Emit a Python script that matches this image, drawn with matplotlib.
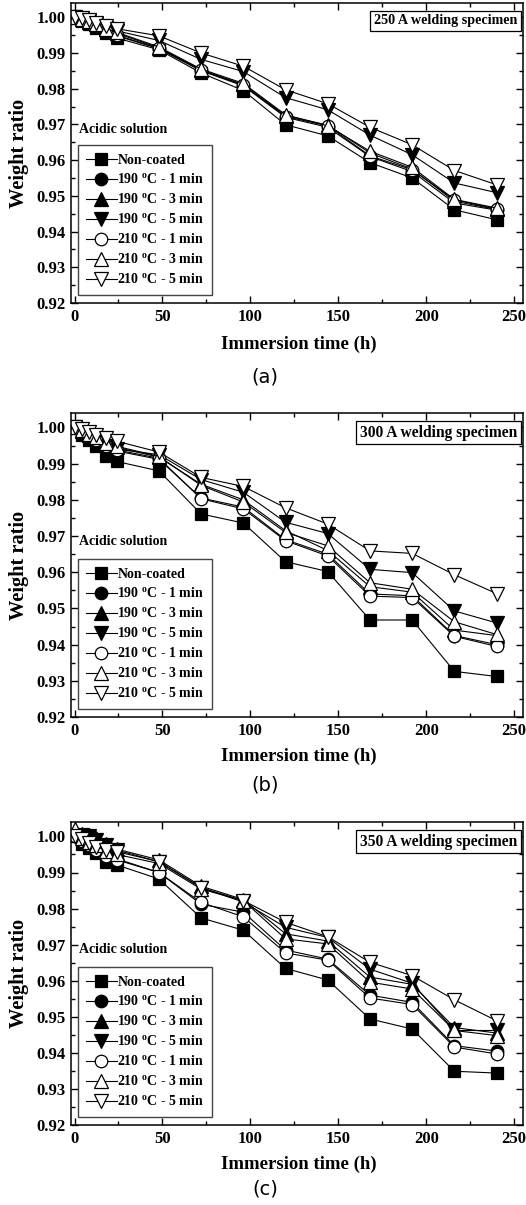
import matplotlib
matplotlib.use("Agg")
import matplotlib.pyplot as plt
from matplotlib.ticker import MultipleLocator

plt.rcParams['font.family'] = ['Liberation Serif', 'DejaVu Serif']
plt.rcParams['font.weight'] = 'bold'
plt.rcParams['mathtext.fontset'] = 'custom'
plt.rcParams['mathtext.rm'] = 'Liberation Serif'
plt.rcParams['mathtext.bf'] = 'Liberation Serif:bold'

# immersion times (h)
t = [0, 4, 8, 12, 18, 24, 48, 72, 96, 120, 144, 168, 192, 216, 240]

labels = ['Non-coated',
          r'190 $^{\mathbf{o}}$C - 1 min', r'190 $^{\mathbf{o}}$C - 3 min', r'190 $^{\mathbf{o}}$C - 5 min',
          r'210 $^{\mathbf{o}}$C - 1 min', r'210 $^{\mathbf{o}}$C - 3 min', r'210 $^{\mathbf{o}}$C - 5 min']
markers = ['s', 'o', '^', 'v', 'o', '^', 'v']
fills = ['black', 'black', 'black', 'black', 'white', 'white', 'white']
msizes = [8, 9, 10, 10, 9, 10, 10]

# 250 A
nc_a = [1.000, 0.9990, 0.9980, 0.9970, 0.9955, 0.9942, 0.9909, 0.9844, 0.9795, 0.9699, 0.9668, 0.9593, 0.9550, 0.9461, 0.9433]
c190_1_a = [1.000, 0.9992, 0.9983, 0.9974, 0.9960, 0.9948, 0.9912, 0.9850, 0.9808, 0.9720, 0.9692, 0.9610, 0.9568, 0.9480, 0.9460]
c190_3_a = [1.000, 0.9995, 0.9988, 0.9980, 0.9966, 0.9955, 0.9915, 0.9852, 0.9812, 0.9725, 0.9698, 0.9620, 0.9575, 0.9485, 0.9462]
c190_5_a = [1.000, 0.9996, 0.9990, 0.9982, 0.9970, 0.9962, 0.9935, 0.9882, 0.9848, 0.9775, 0.9741, 0.9670, 0.9615, 0.9536, 0.9509]
c210_1_a = [1.000, 0.9993, 0.9985, 0.9976, 0.9963, 0.9950, 0.9913, 0.9852, 0.9810, 0.9722, 0.9696, 0.9612, 0.9573, 0.9489, 0.9463]
c210_3_a = [1.000, 0.9996, 0.9990, 0.9982, 0.9968, 0.9958, 0.9917, 0.9855, 0.9815, 0.9727, 0.9696, 0.9625, 0.9580, 0.9490, 0.9466]
c210_5_a = [1.000, 0.9997, 0.9992, 0.9985, 0.9975, 0.9968, 0.9948, 0.9900, 0.9863, 0.9797, 0.9758, 0.9692, 0.9643, 0.9571, 0.9531]

# 300 A
nc_b = [1.000, 0.9980, 0.9965, 0.9950, 0.9922, 0.9906, 0.9880, 0.9761, 0.9736, 0.9629, 0.9602, 0.9468, 0.9468, 0.9326, 0.9312]
c190_1_b = [1.000, 0.9985, 0.9972, 0.9960, 0.9945, 0.9935, 0.9912, 0.9805, 0.9780, 0.9690, 0.9650, 0.9540, 0.9535, 0.9425, 0.9400]
c190_3_b = [1.000, 0.9990, 0.9980, 0.9970, 0.9955, 0.9945, 0.9918, 0.9843, 0.9800, 0.9715, 0.9660, 0.9560, 0.9545, 0.9440, 0.9425]
c190_5_b = [1.000, 0.9982, 0.9970, 0.9958, 0.9948, 0.9940, 0.9925, 0.9856, 0.9821, 0.9738, 0.9707, 0.9608, 0.9599, 0.9493, 0.9460]
c210_1_b = [1.000, 0.9988, 0.9976, 0.9965, 0.9950, 0.9938, 0.9915, 0.9803, 0.9775, 0.9687, 0.9645, 0.9534, 0.9530, 0.9423, 0.9395]
c210_3_b = [1.000, 0.9992, 0.9983, 0.9973, 0.9958, 0.9948, 0.9920, 0.9840, 0.9794, 0.9710, 0.9673, 0.9571, 0.9553, 0.9463, 0.9428]
c210_5_b = [1.000, 0.9995, 0.9988, 0.9980, 0.9970, 0.9962, 0.9932, 0.9862, 0.9837, 0.9778, 0.9733, 0.9659, 0.9652, 0.9593, 0.9541]

# 350 A
nc_c = [1.000, 0.9980, 0.9968, 0.9955, 0.9930, 0.9921, 0.9882, 0.9774, 0.9740, 0.9634, 0.9602, 0.9494, 0.9466, 0.9349, 0.9344]
c190_1_c = [1.000, 0.9990, 0.9978, 0.9965, 0.9948, 0.9938, 0.9900, 0.9812, 0.9790, 0.9685, 0.9660, 0.9560, 0.9540, 0.9420, 0.9405]
c190_3_c = [1.001, 1.0008, 1.0005, 0.9995, 0.9980, 0.9965, 0.9935, 0.9862, 0.9825, 0.9730, 0.9710, 0.9610, 0.9590, 0.9470, 0.9455]
c190_5_c = [1.000, 1.0005, 1.0000, 0.9990, 0.9975, 0.9962, 0.9930, 0.9858, 0.9818, 0.9748, 0.9720, 0.9632, 0.9593, 0.9462, 0.9462]
c210_1_c = [1.000, 0.9988, 0.9975, 0.9962, 0.9945, 0.9935, 0.9900, 0.9817, 0.9777, 0.9677, 0.9657, 0.9552, 0.9534, 0.9416, 0.9397]
c210_3_c = [1.002, 0.9995, 0.9985, 0.9975, 0.9960, 0.9950, 0.9925, 0.9854, 0.9822, 0.9716, 0.9702, 0.9596, 0.9577, 0.9462, 0.9448]
c210_5_c = [1.000, 0.9992, 0.9982, 0.9972, 0.9962, 0.9958, 0.9930, 0.9858, 0.9822, 0.9762, 0.9722, 0.9651, 0.9614, 0.9547, 0.9489]

panels = [
    ('250 A welding specimen', '(a)', [nc_a, c190_1_a, c190_3_a, c190_5_a, c210_1_a, c210_3_a, c210_5_a]),
    ('300 A welding specimen', '(b)', [nc_b, c190_1_b, c190_3_b, c190_5_b, c210_1_b, c210_3_b, c210_5_b]),
    ('350 A welding specimen', '(c)', [nc_c, c190_1_c, c190_3_c, c190_5_c, c210_1_c, c210_3_c, c210_5_c]),
]

W, H = 526, 1205
fig = plt.figure(figsize=(W / 100, H / 100), dpi=100)

# axes boxes in pixels: (left, top, right, bottom)
boxes = [(71, 3, 523, 303), (71, 413, 523, 717), (71, 822, 523, 1125)]
xlab_y = [344, 756, 1164]
cap_y = [377, 785, 1189]
title_fs = [10.2, 11.2, 11.2]

for (title, cap, series), (l, tp, r, b), xy, cy, tfs in zip(panels, boxes, xlab_y, cap_y, title_fs):
    ax = fig.add_axes([l / W, 1 - b / H, (r - l) / W, (b - tp) / H])
    for ys, lab, m, fc, ms in zip(series, labels, markers, fills, msizes):
        ax.plot(t, ys, color='black', lw=0.8, marker=m, ms=ms, mfc=fc, mec='black', mew=0.9, label=lab)

    ax.set_xlim(-2, 255)
    ax.set_ylim(0.92, 1.004)
    ax.xaxis.set_major_locator(MultipleLocator(50))
    ax.xaxis.set_minor_locator(MultipleLocator(25))
    ax.yaxis.set_major_locator(MultipleLocator(0.01))
    ax.yaxis.set_minor_locator(MultipleLocator(0.005))
    ax.yaxis.set_major_formatter(plt.FormatStrFormatter('%.2f'))
    ax.tick_params(which='both', direction='in', top=True, right=True, width=1)
    ax.tick_params(which='major', length=5, labelsize=12, pad=4)
    ax.tick_params(which='minor', length=3)
    for s in ax.spines.values():
        s.set_linewidth(1.1)
    for lb in ax.get_xticklabels() + ax.get_yticklabels():
        lb.set_fontweight('bold')

    ax.set_ylabel('Weight ratio', fontsize=14.7, fontweight='bold', labelpad=5)
    fig.text(299 / W, 1 - xy / H, 'Immersion time (h)', ha='center', va='center',
             fontsize=13.5, fontweight='bold')
    fig.text(265 / W, 1 - cy / H, cap, ha='center', va='center', fontsize=14,
             fontweight='normal', family=['DejaVu Sans'])

    ax.text(0.987, 0.962, title, transform=ax.transAxes, ha='right', va='top',
            fontsize=tfs, fontweight='bold',
            bbox=dict(boxstyle='square,pad=0.25', fc='white', ec='black', lw=0.9))
    ax.text(0.018, 0.578, 'Acidic solution', transform=ax.transAxes, ha='left',
            va='center', fontsize=10, fontweight='bold')

    leg = ax.legend(loc='lower left', bbox_to_anchor=(0.015, 0.027), borderaxespad=0,
                    fontsize=10, handlelength=2.2, handletextpad=0.05, labelspacing=0.38,
                    borderpad=0.6, fancybox=False, framealpha=1, edgecolor='#444444')
    leg.get_frame().set_linewidth(1.0)
    for tx in leg.get_texts():
        tx.set_fontweight('bold')

fig.savefig('out.png', dpi=100)
